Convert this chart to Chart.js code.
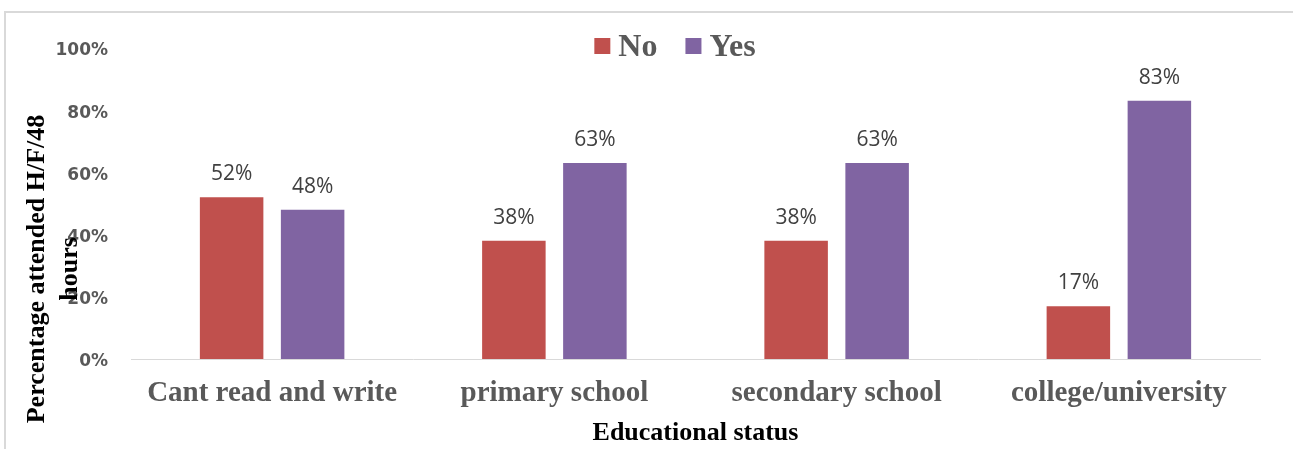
<!DOCTYPE html>
<html>
<head>
<meta charset="utf-8">
<title>Educational status</title>
<script src="https://cdn.jsdelivr.net/npm/chart.js@4.4.1/dist/chart.umd.min.js"></script>
<style>
  html, body { margin: 0; padding: 0; background: #fff; }
  #wrap { width: 1293px; height: 449px; }
</style>
</head>
<body>
<div id="wrap"><canvas id="myChart" width="1293" height="449"></canvas></div>
<script>
// data
const categories = ["Cant read and write", "primary school", "secondary school", "college/university"];
const seriesNames = ["No", "Yes"];
const noValues = [52, 38, 38, 17];
const yesValues = [48, 63, 63, 83];
const yTicks = [0, 20, 40, 60, 80, 100];
const yTitleLines = ["Percentage attended H/F/48", "hours"];
const xTitle = "Educational status";

const serif = "'Liberation Serif', 'Times New Roman', serif";
const grey = "#595959";

// light grey frame round the whole chart
const framePlugin = {
  id: "frame",
  beforeDraw(chart) {
    const ctx = chart.ctx;
    ctx.save();
    ctx.fillStyle = "#fff";
    ctx.fillRect(0, 0, chart.width, chart.height);
    ctx.fillStyle = "#d9d9d9";
    ctx.fillRect(4, 11, chart.width - 4, 2);
    ctx.fillRect(4, 11, 2, chart.height - 11);
    ctx.restore();
  },
};

// percentage above every bar
const valueLabels = {
  id: "valueLabels",
  afterDatasetsDraw(chart) {
    const ctx = chart.ctx;
    ctx.save();
    ctx.font = "21px 'Open Sans', 'Noto Sans', sans-serif";
    ctx.fillStyle = "#404040";
    ctx.textAlign = "center";
    ctx.textBaseline = "alphabetic";
    chart.data.datasets.forEach((ds, i) => {
      chart.getDatasetMeta(i).data.forEach((bar, j) => {
        ctx.fillText(ds.data[j] + "%", bar.x, bar.y - 17);
      });
    });
    ctx.restore();
  },
};

// y title sits over the tick labels, two lines
const yTitlePlugin = {
  id: "yTitle",
  afterDraw(chart) {
    const ctx = chart.ctx;
    ctx.save();
    ctx.font = "bold 26px " + serif;
    ctx.fillStyle = "#000";
    ctx.textAlign = "center";
    ctx.textBaseline = "alphabetic";
    ctx.translate(44, 269);
    ctx.rotate(-Math.PI / 2);
    yTitleLines.forEach((line, i) => ctx.fillText(line, 0, i * 33));
    ctx.restore();
  },
};

// legend drawn inside the plot, top
const legendPlugin = {
  id: "topLegend",
  afterDraw(chart) {
    const ctx = chart.ctx;
    const box = 16, gap = 8, spacing = 28;
    ctx.save();
    ctx.font = "bold 32px " + serif;
    ctx.textBaseline = "alphabetic";
    ctx.textAlign = "left";
    const items = chart.data.datasets.map((ds) => ({
      text: ds.label,
      color: ds.backgroundColor,
      w: ctx.measureText(ds.label).width,
    }));
    const total = items.reduce((s, it) => s + box + gap + it.w, 0) + spacing * (items.length - 1);
    let x = 675 - total / 2;
    items.forEach((it) => {
      ctx.fillStyle = it.color;
      ctx.fillRect(x, 38, box, box);
      x += box + gap;
      ctx.fillStyle = grey;
      ctx.fillText(it.text, x, 56);
      x += it.w + spacing;
    });
    ctx.restore();
  },
};

const ctx = document.getElementById("myChart");

new Chart(ctx, {
  type: "bar",
  data: {
    labels: categories,
    datasets: [
      {
        label: seriesNames[0],
        data: noValues,
        backgroundColor: "#C0504D",
      },
      {
        label: seriesNames[1],
        data: yesValues,
        backgroundColor: "#8064A2",
      },
    ],
  },
  options: {
    responsive: false,
    animation: false,
    devicePixelRatio: 1,
    categoryPercentage: 0.574,
    barPercentage: 0.784,
    layout: {
      padding: { top: 48, right: 33, bottom: 0, left: 0 },
    },
    scales: {
      x: {
        grid: { display: false, drawTicks: false },
        border: { display: true, color: "#d9d9d9", width: 1 },
        ticks: {
          padding: 17,
          color: grey,
          font: { family: serif, size: 29, weight: "bold", lineHeight: 1.2 },
        },
        title: {
          display: true,
          text: xTitle,
          color: "#000",
          padding: { top: 0, bottom: 0 },
          font: { family: serif, size: 26, weight: "bold", lineHeight: 1.2 },
        },
        afterFit: (scale) => {
          scale.height = 90;
        },
      },
      y: {
        min: 0,
        max: 100,
        grid: { display: false, drawTicks: false },
        border: { display: false },
        afterBuildTicks: (scale) => {
          scale.ticks = yTicks.map((v) => ({ value: v }));
        },
        ticks: {
          padding: 23,
          labelOffset: 3,
          color: grey,
          font: { family: "'DejaVu Sans', sans-serif", size: 17, weight: "bold" },
          callback: (v) => v + "%",
        },
        afterFit: (scale) => {
          scale.width = 131;
        },
      },
    },
    plugins: {
      legend: { display: false },
      tooltip: { enabled: false },
    },
  },
  plugins: [framePlugin, valueLabels, yTitlePlugin, legendPlugin],
});
</script>
</body>
</html>
